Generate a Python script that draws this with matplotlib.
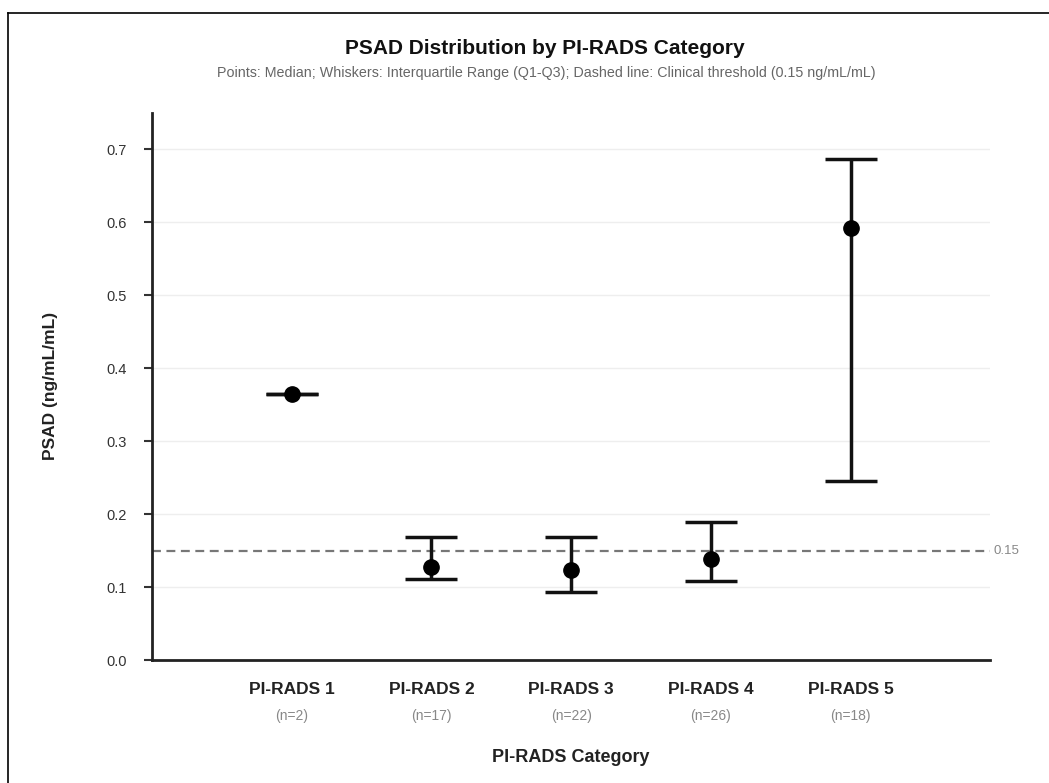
import matplotlib
matplotlib.use('Agg')
import matplotlib.pyplot as plt
from matplotlib.lines import Line2D
import numpy as np

matplotlib.rcParams.update({'font.family': ['Liberation Sans', 'DejaVu Sans']})

categories = ['PI-RADS 1', 'PI-RADS 2', 'PI-RADS 3', 'PI-RADS 4', 'PI-RADS 5']
counts = [2, 17, 22, 26, 18]
median = [0.364, 0.128, 0.124, 0.139, 0.592]
q1 = [0.364, 0.111, 0.093, 0.109, 0.246]
q3 = [0.364, 0.169, 0.168, 0.189, 0.686]
threshold = 0.15

fig = plt.figure(figsize=(10.49, 7.83), dpi=100)
ax = fig.add_axes([0.145, 0.157, 0.799, 0.699])

x = np.arange(len(categories))
med = np.array(median)
err = [med - np.array(q1), np.array(q3) - med]
ax.errorbar(x, med, yerr=err, fmt='o', color='black', ecolor='#111111',
            elinewidth=2.5, capsize=19, capthick=2.5, markersize=11, zorder=3)

ax.axhline(threshold, color='#777777', linestyle=(0, (4, 2.5)), linewidth=1.6, zorder=2)
ax.text(1.004, threshold, '0.15', transform=ax.get_yaxis_transform(),
        va='center', ha='left', fontsize=9.5, color='#888888')

ax.set_xlim(-1, 5)
ax.set_ylim(0, 0.75)
ax.set_yticks(np.arange(0, 0.71, 0.1))
ax.set_yticklabels(['%.1f' % v for v in np.arange(0, 0.71, 0.1)])
ax.grid(axis='y', color='#eeeeee', linewidth=1)
ax.set_axisbelow(True)

ax.set_xticks(x)
ax.set_xticklabels([])
ax.tick_params(axis='x', length=0)
ax.tick_params(axis='y', length=6, width=1.5, pad=12, labelsize=10.5, colors='#333333')
for xi, c, n in zip(x, categories, counts):
    ax.text(xi, -0.041, c, ha='center', va='center', fontsize=12.5,
            fontweight='bold', color='#222222')
    ax.text(xi, -0.076, '(n=%d)' % n, ha='center', va='center', fontsize=10,
            color='#888888')

for s in ['top', 'right']:
    ax.spines[s].set_visible(False)
for s in ['left', 'bottom']:
    ax.spines[s].set_linewidth(2)
    ax.spines[s].set_color('#222222')

ax.set_ylabel('PSAD (ng/mL/mL)', fontsize=12.5, fontweight='bold', color='#222222')
ax.yaxis.set_label_coords(-0.112, 0.5)
fig.text(571 / 1049, 1 - 757 / 783, 'PI-RADS Category', ha='center', va='center',
         fontsize=13, fontweight='bold', color='#222222')
fig.text(545 / 1049, 1 - 49 / 783, 'PSAD Distribution by PI-RADS Category', ha='center',
         va='center', fontsize=15, fontweight='bold', color='#111111')
fig.text(546 / 1049, 1 - 73 / 783,
         'Points: Median; Whiskers: Interquartile Range (Q1-Q3); Dashed line: Clinical threshold (0.15 ng/mL/mL)',
         ha='center', va='center', fontsize=10.3, color='#666666')

# outer frame (top and left edges)
fig.add_artist(Line2D([8 / 1049, 1], [1 - 13 / 783, 1 - 13 / 783], color='black', linewidth=1.2))
fig.add_artist(Line2D([8 / 1049, 8 / 1049], [0, 1 - 13 / 783], color='black', linewidth=1.2))

fig.savefig('out.png', dpi=100)
